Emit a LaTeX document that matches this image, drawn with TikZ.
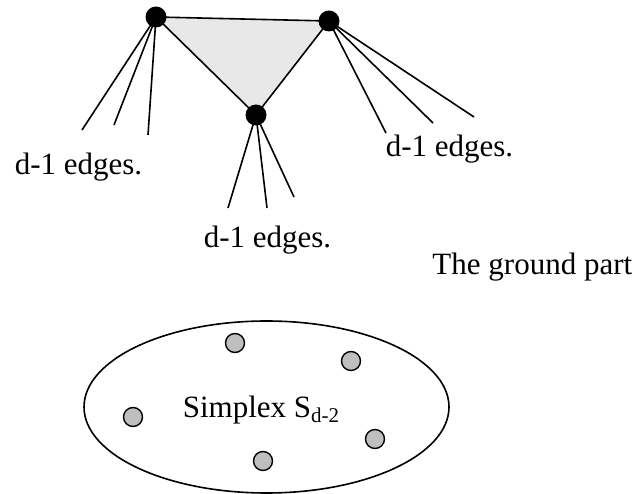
\documentclass[tikz,border=0pt]{standalone}
\usepackage{fontspec}
\setmainfont{Liberation Serif}
\usetikzlibrary{shapes.geometric}

\begin{document}
\begin{tikzpicture}[x=1pt,y=-1pt,line width=1.6pt,font=\fontsize{31}{37}\selectfont,
    vertexdot/.style={circle,fill=black,inner sep=0pt,minimum size=21pt},
    groundpt/.style={circle,draw,fill=gray!50,inner sep=0pt,minimum size=19pt,line width=1.4pt},
    lbl/.style={inner sep=0pt,anchor=base west}]
  \useasboundingbox (0,0) rectangle (638,494);
  % the simplex on top
  \coordinate (A) at (156,17);
  \coordinate (B) at (329,21);
  \coordinate (C) at (256,115);
  \filldraw[fill=gray!18] (A) -- (B) -- (C) -- cycle;
  \foreach \n/\p in {a1/{82,130},a2/{114,125},a3/{148,135},
                     b1/{386,133},b2/{433,123},b3/{474,117},
                     c1/{228,208},c2/{267,208},c3/{294,197}}
    \coordinate (\n) at (\p);
  \foreach \v/\e in {A/a1,A/a2,A/a3,B/b1,B/b2,B/b3,C/c1,C/c2,C/c3}
    \draw (\v) -- (\e);
  \foreach \v in {A,B,C} \node[vertexdot] (dot\v) at (\v) {};
  \node[lbl] (edgesA) at (14,175) {d-1 edges.};
  \node[lbl] (edgesB) at (385,157) {d-1 edges.};
  \node[lbl] (edgesC) at (203,248) {d-1 edges.};
  \node[inner sep=0pt,anchor=base east] (gtitle) at (633,275) {The ground part};
  % the ground part
  \node[draw,ellipse,minimum width=365pt,minimum height=172pt] (ground) at (266.5,407) {};
  \foreach \i/\p in {1/{235,343},2/{351,361},3/{133,417},4/{375,439},5/{263,461}}
    \node[groundpt] (g\i) at (\p) {};
  \node[lbl] (simplex) at (182,418) {Simplex S\raisebox{-5pt}{\fontsize{21}{24}\selectfont d-2}};
\end{tikzpicture}
\end{document}
